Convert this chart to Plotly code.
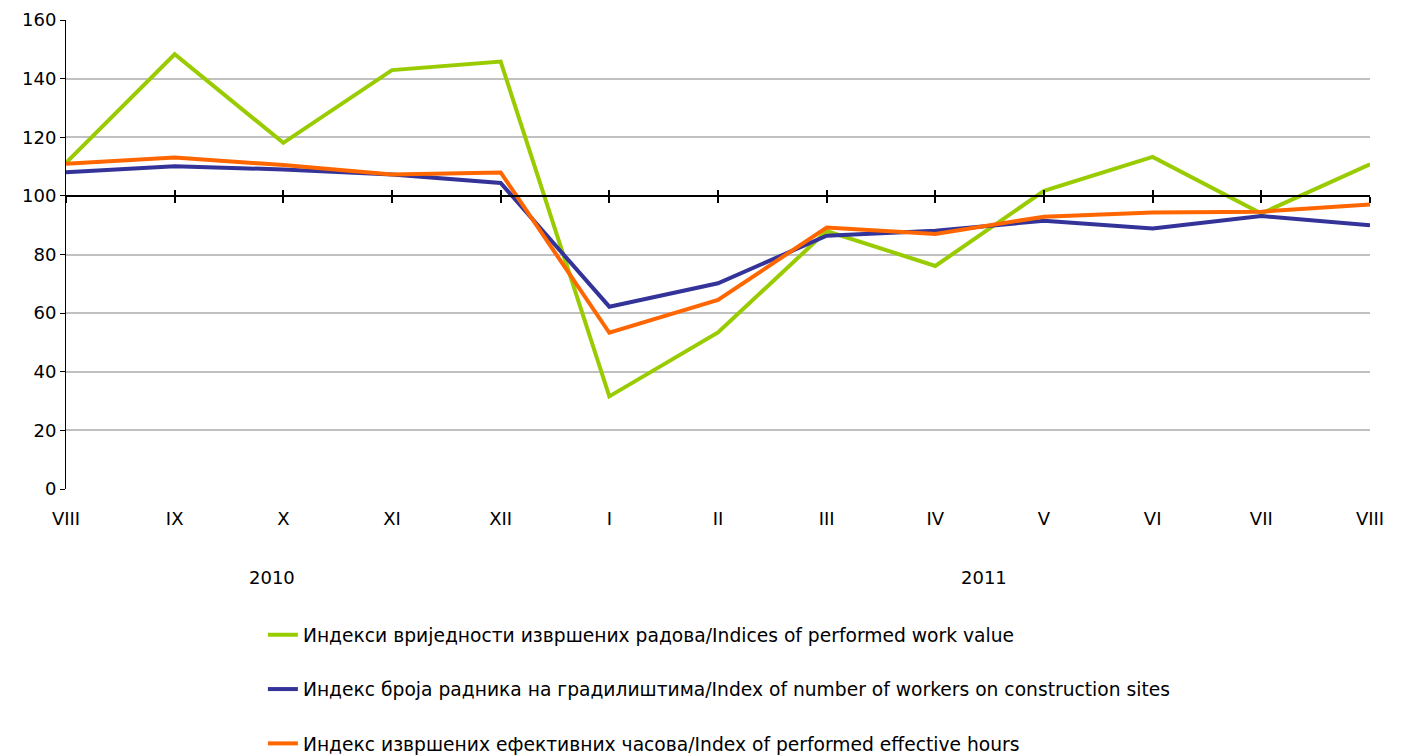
import plotly.graph_objects as go

months = ["VIII", "IX", "X", "XI", "XII", "I", "II", "III", "IV", "V", "VI", "VII", "VIII"]
work_value = [111.3, 148.3, 118.1, 142.9, 145.8, 31.6, 53.4, 88.0, 76.1, 101.7, 113.3, 94.0, 110.8]
workers = [108.1, 110.1, 109.0, 107.3, 104.4, 62.2, 70.2, 86.4, 88.1, 91.5, 88.9, 93.1, 90.0]
hours = [111.0, 113.1, 110.5, 107.3, 108.0, 53.3, 64.5, 89.2, 87.0, 92.9, 94.3, 94.6, 97.1]
names = [
    "Индекси вриједности извршених радова/Indices of performed work value",
    "Индекс броја радника на градилиштима/Index of number of workers on construction sites",
    "Индекс извршених ефективних часова/Index of performed effective hours",
]
colors = ["#99CC00", "#333399", "#FF6600"]
years = ["2010", "2011"]
year_pos = [1.9, 8.45]
y_ticks = [0, 20, 40, 60, 80, 100, 120, 140, 160]
base = 100

idx = list(range(len(months)))
FONT = "DejaVu Sans"
FS = 18

fig = go.Figure()
for i, (vals, nm, col) in enumerate(zip([work_value, workers, hours], names, colors)):
    fig.add_trace(go.Scatter(x=idx, y=vals, mode="lines", name=nm,
                             line=dict(color=col, width=4), legendgroup=str(i)))

fig.add_shape(type="line", xref="paper", yref="y", x0=0, x1=1, y0=base, y1=base,
              line=dict(color="black", width=2), layer="above")

fig.update_layout(
    width=1402, height=756,
    margin=dict(l=58, r=40, t=12, b=275, autoexpand=False),
    paper_bgcolor="white", plot_bgcolor="white",
    font=dict(family=FONT, size=FS, color="black"),
    showlegend=True,
    legend=dict(x=0.151, y=-0.271, xanchor="left", yanchor="top",
                orientation="v", tracegroupgap=27,
                font=dict(family=FONT, size=18.7), bgcolor="rgba(0,0,0,0)"),
    xaxis=dict(range=[0, 12], tickmode="array", tickvals=idx, ticktext=months,
               showgrid=False, zeroline=False, showline=False, ticks="",
               ticklabelstandoff=17, tickfont=dict(size=FS)),
    yaxis=dict(range=[0, 160], tickvals=y_ticks, showgrid=True, gridcolor="#C0C0C0",
               gridwidth=2, zeroline=False, showline=True, linecolor="black",
               linewidth=1, ticks="outside", ticklen=5, tickcolor="black",
               tickfont=dict(size=FS)),
    xaxis2=dict(overlaying="x", anchor="free", position=base / 160, range=[0, 12],
                tickmode="array", tickvals=idx, ticks="outside", ticklen=6,
                tickwidth=2, tickcolor="black", showticklabels=False,
                showgrid=False, zeroline=False, showline=False),
    xaxis3=dict(overlaying="x", anchor="free", position=base / 160, range=[0, 12],
                tickmode="array", tickvals=idx, ticks="inside", ticklen=6,
                tickwidth=2, tickcolor="black", showticklabels=False,
                showgrid=False, zeroline=False, showline=False),
)

# invisible traces so overlay axes are drawn
fig.add_trace(go.Scatter(x=[0], y=[None], xaxis="x2", showlegend=False, hoverinfo="skip"))
fig.add_trace(go.Scatter(x=[0], y=[None], xaxis="x3", showlegend=False, hoverinfo="skip"))

for yr, pos in zip(years, year_pos):
    fig.add_annotation(x=pos, xref="x", y=-0.188, yref="paper", text=yr,
                       showarrow=False, font=dict(size=FS), yanchor="middle")

fig.write_html("out.html")
